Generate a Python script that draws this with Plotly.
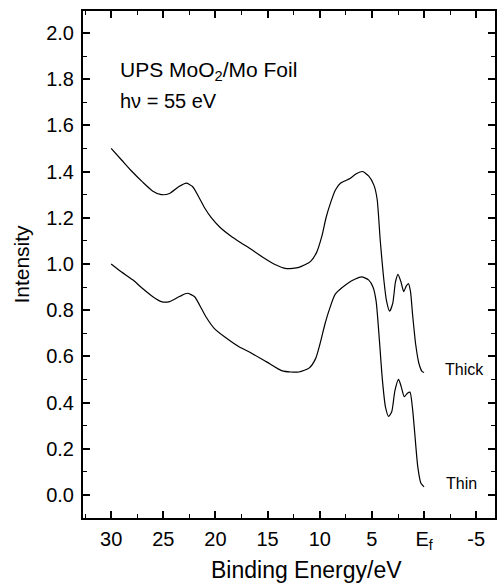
import plotly.graph_objects as go

# Binding energy (eV) and intensity for the thick film
thick_energy = [30.0, 29.0, 28.0, 27.0, 26.0, 25.2, 24.4, 23.5, 22.8, 22.2, 21.6, 21.0, 20.4, 19.6,
                18.5, 17.5, 16.8, 15.5, 14.4, 13.2, 12.0, 10.9, 10.3, 9.8, 9.4, 9.0, 8.5, 8.0,
                7.1, 6.5, 5.9, 5.3, 4.8, 4.5, 4.2, 3.9, 3.6, 3.3, 3.0, 2.75, 2.5, 2.2, 1.95,
                1.7, 1.5, 1.3, 1.1, 0.8, 0.5, 0.2, 0.0]
thick_intensity = [1.50, 1.45, 1.40, 1.355, 1.315, 1.30, 1.305, 1.335, 1.35, 1.335, 1.29, 1.24, 1.20, 1.16,
                   1.12, 1.09, 1.07, 1.03, 1.00, 0.98, 0.985, 1.01, 1.05, 1.12, 1.20, 1.26, 1.32, 1.35,
                   1.37, 1.39, 1.40, 1.38, 1.34, 1.28, 1.10, 0.95, 0.84, 0.795, 0.83, 0.92, 0.955, 0.92, 0.88,
                   0.905, 0.915, 0.88, 0.78, 0.65, 0.57, 0.535, 0.53]

# Binding energy (eV) and intensity for the thin film
thin_energy = [30.0, 29.0, 27.9, 26.9, 26.0, 25.2, 24.4, 23.4, 22.7, 22.0, 21.5, 20.9, 20.1, 19.0,
               17.7, 16.8, 15.1, 13.6, 12.0, 11.0, 10.4, 10.0, 9.5, 9.1, 8.5, 7.2, 6.0, 5.3,
               4.9, 4.6, 4.3, 4.0, 3.7, 3.4, 3.1, 2.8, 2.45, 2.2, 1.9, 1.6, 1.35, 1.1, 0.9,
               0.6, 0.3, 0.0]
thin_intensity = [1.00, 0.965, 0.93, 0.89, 0.858, 0.837, 0.837, 0.86, 0.873, 0.858, 0.82, 0.77, 0.72, 0.68,
                  0.64, 0.62, 0.576, 0.537, 0.532, 0.55, 0.59, 0.65, 0.74, 0.80, 0.87, 0.92, 0.944, 0.93,
                  0.90, 0.84, 0.68, 0.50, 0.38, 0.34, 0.36, 0.45, 0.50, 0.47, 0.425, 0.44, 0.445, 0.37, 0.27,
                  0.12, 0.05, 0.035]

x_tick_vals = [30, 25, 20, 15, 10, 5, 0, -5]
x_tick_text = ["30", "25", "20", "15", "10", "5", "E<sub>f</sub>", "-5"]
y_tick_vals = [0.0, 0.2, 0.4, 0.6, 0.8, 1.0, 1.2, 1.4, 1.6, 1.8, 2.0]
y_tick_text = ["0.0", "0.2", "0.4", "0.6", "0.8", "1.0", "1.2", "1.4", "1.6", "1.8", "2.0"]

FONT = "Arial, Liberation Sans, sans-serif"

fig = go.Figure()
for xs, ys in [(thick_energy, thick_intensity), (thin_energy, thin_intensity)]:
    fig.add_trace(go.Scatter(x=xs, y=ys, mode="lines",
                             line=dict(color="black", width=1.2, shape="spline", smoothing=0.6),
                             showlegend=False, hoverinfo="skip"))

axis_common = dict(showline=True, linecolor="black", linewidth=2, mirror="ticks",
                   ticks="inside", ticklen=7, tickwidth=1.5, tickcolor="black",
                   showgrid=False, zeroline=False,
                   tickfont=dict(family=FONT, size=20, color="black"))

fig.update_xaxes(range=[32.7, -6.8], tickvals=x_tick_vals, ticktext=x_tick_text,
                 ticklabelstandoff=2,
                 minor=dict(dtick=2.5, tick0=0, ticklen=4, tickwidth=1.2, tickcolor="black", ticks="inside"),
                 **axis_common)
fig.update_yaxes(range=[-0.1, 2.095], tickvals=y_tick_vals, ticktext=y_tick_text,
                 ticklabelstandoff=3,
                 minor=dict(dtick=0.1, tick0=0, ticklen=4, tickwidth=1.2, tickcolor="black", ticks="inside"),
                 title=dict(text="Intensity", font=dict(family=FONT, size=21, color="black"), standoff=11),
                 **axis_common)

# x-axis title (slightly right of centre, as in the original)
fig.add_annotation(x=0.543, y=-0.103, xref="paper", yref="paper", text="Binding Energy/eV",
                   showarrow=False, xanchor="center", yanchor="middle",
                   font=dict(family=FONT, size=23, color="black"))


def add_text(x, y, text, size, xanchor="left"):
    fig.add_annotation(x=x, y=y, xref="x", yref="y", text=text, showarrow=False,
                       xanchor=xanchor, yanchor="middle",
                       font=dict(family=FONT, size=size, color="black"))


add_text(29.3, 1.835, "UPS MoO<sub>2</sub>/Mo Foil", 21)
add_text(29.3, 1.705, "h\u03bd = 55 eV", 20)
add_text(-1.8, 0.545, "Thick", 16)
add_text(-1.95, 0.05, "Thin", 16)

fig.update_layout(width=497, height=584, margin=dict(l=83, r=0, t=11, b=66),
                  plot_bgcolor="white", paper_bgcolor="white")

fig.write_html("out.html")
